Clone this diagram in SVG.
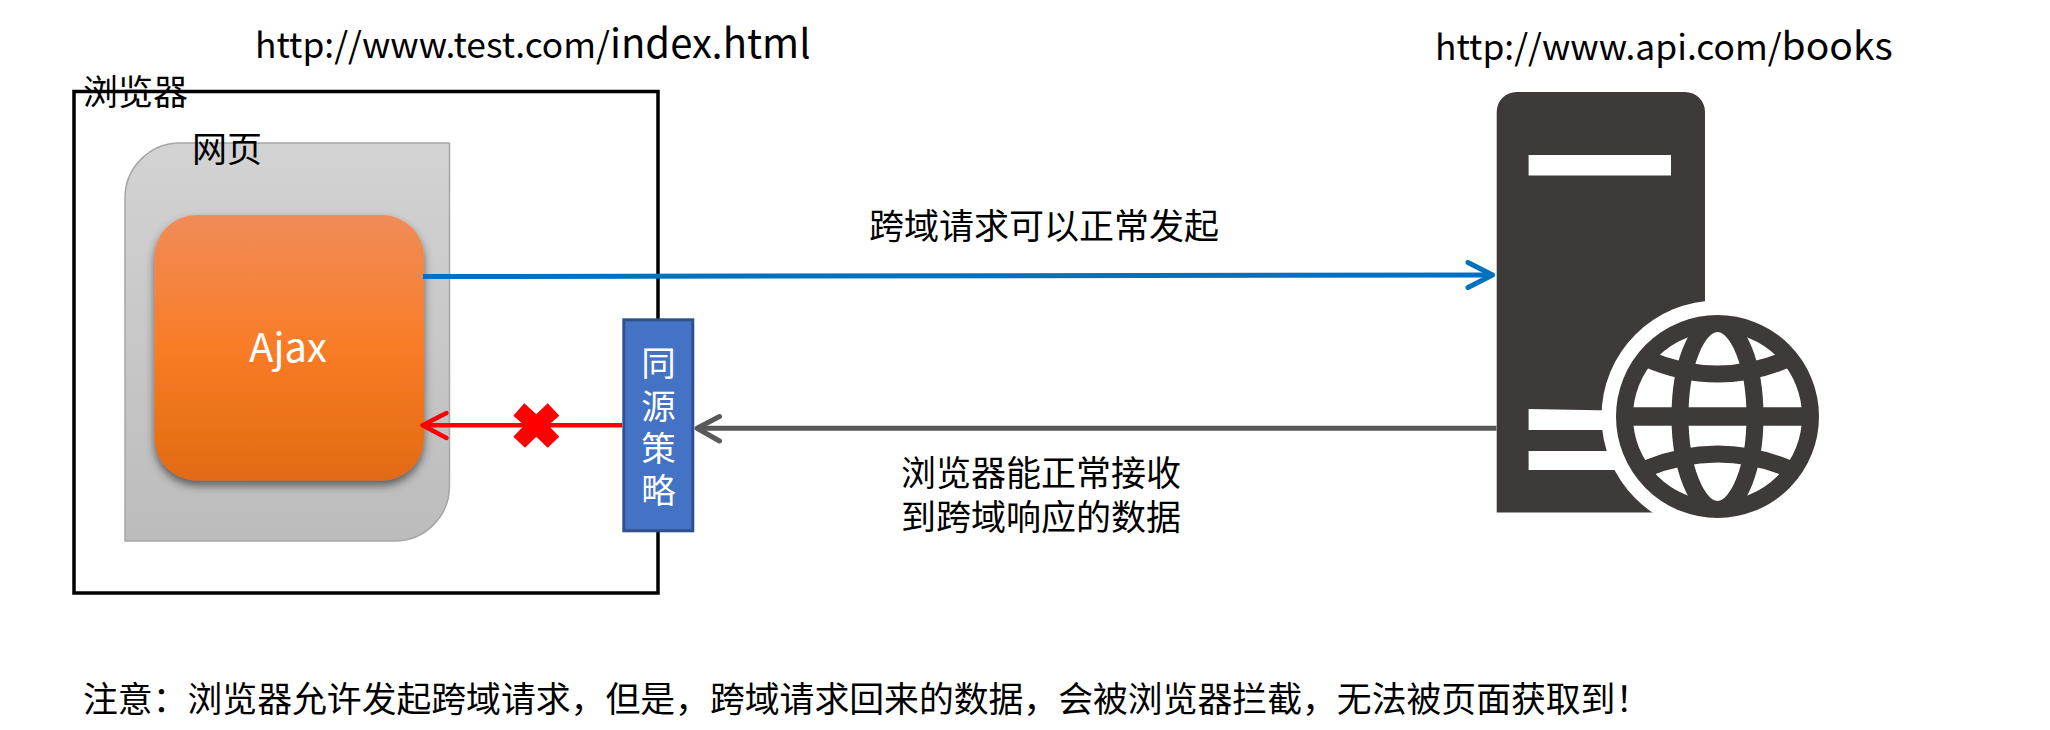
<svg xmlns="http://www.w3.org/2000/svg" width="2050" height="730" viewBox="0 0 2050 730">
  <style>
    text { font-family: "Noto Sans CJK SC", "Noto Sans", sans-serif; fill: #000; font-size: 35px; }
    .w { fill: #fff; }
    .c { text-anchor: middle; }
    .arrow { fill: none; stroke-linecap: round; stroke-linejoin: round; }
  </style>
  <defs>
    <linearGradient id="pageGrad" x1="0" y1="0" x2="0" y2="1">
      <stop offset="0" stop-color="#D3D3D3"/><stop offset="1" stop-color="#BCBCBC"/>
    </linearGradient>
    <linearGradient id="ajaxGrad" x1="0" y1="0" x2="0" y2="1">
      <stop offset="0" stop-color="#F08C58"/><stop offset="0.5" stop-color="#F97C26"/><stop offset="1" stop-color="#E26A12"/>
    </linearGradient>
    <filter id="shadow" x="-15%" y="-15%" width="130%" height="130%">
      <feDropShadow dx="0" dy="5" stdDeviation="4" flood-color="#333" flood-opacity="0.7"/>
    </filter>
    <clipPath id="globeClip"><circle cx="1717.5" cy="416.5" r="95"/></clipPath>
  </defs>
  <rect width="2050" height="730" fill="#fff"/>

  <g id="url-test"><text x="255" y="58" style="font-size:35.4px">http://www.test.com/<tspan style="font-size:40px">index.html</tspan></text></g>
  <g id="url-api"><text x="1435" y="60" style="font-size:35.4px">http://www.api.com/<tspan style="font-size:39px">books</tspan></text></g>

  <g id="browser">
    <rect x="74" y="91.5" width="584" height="501.5" fill="none" stroke="#000" stroke-width="3.5"/>
    <text x="83" y="105">浏览器</text>
  </g>
  <g id="page">
    <path d="M125 198A55 55 0 0 1 180 143H449.5V486A55 55 0 0 1 394.5 541H125Z" fill="url(#pageGrad)" stroke="#A6A6A6" stroke-width="1.5"/>
    <text x="192" y="162">网页</text>
  </g>
  <g id="ajax">
    <rect x="154.5" y="215" width="269.5" height="265.5" rx="42" ry="42" fill="url(#ajaxGrad)" filter="url(#shadow)"/>
    <text class="w c" x="288" y="362" style="font-size:40px">Ajax</text>
  </g>

  <g id="server">
    <path d="M1496.7 112A20 20 0 0 1 1516.7 92H1685A20 20 0 0 1 1705 112V340H1660V512.6H1496.7Z" fill="#3E3A39"/>
    <rect x="1528.6" y="155" width="142.4" height="20.5" fill="#fff"/>
    <path d="M1528.6 409L1640 411V430H1528.6Z" fill="#fff"/>
    <rect x="1528.6" y="451" width="110" height="19" fill="#fff"/>
    <circle cx="1717.5" cy="416.5" r="116" fill="#fff"/>
    <g id="globe">
      <circle cx="1717.5" cy="416.5" r="93" fill="#fff" stroke="#3E3A39" stroke-width="17"/>
      <g clip-path="url(#globeClip)" fill="none" stroke="#3E3A39" stroke-width="17">
        <ellipse cx="1717.5" cy="416.5" rx="37.5" ry="93"/>
        <path d="M1620 416.5H1815" stroke-width="18.5"/>
        <path d="M1645 358Q1717.5 390 1790 358"/>
        <path d="M1645 469Q1717.5 439 1790 469"/>
      </g>
    </g>
  </g>

  <g id="connectors">
    <g class="arrow" stroke="#0070C0" stroke-width="5">
      <path d="M423 276.5L1492 275" stroke-linecap="butt"/>
      <path d="M1468 262.5L1492.5 275L1468 287.5"/>
    </g>
    <g class="arrow" stroke="#FF0000" stroke-width="4.5">
      <path d="M622 425.3H424" stroke-linecap="butt"/>
      <path d="M446.5 413L422.5 425.3L446.5 438"/>
    </g>
    <g class="arrow" stroke="#595959" stroke-width="5">
      <path d="M1496.5 428.3H698" stroke-linecap="butt"/>
      <path d="M719.5 416.5L697 428.3L719.5 441"/>
    </g>
  </g>
  <g id="blocked">
    <polygon points="524.3,403.3 536.3,414.3 547.7,403.3 559.3,415.7 548.3,425.3 559.3,436.7 547.7,447.7 536.3,436.7 525,447.7 513.3,436.7 524.3,425.3 513.3,415.7" fill="#FF0000"/>
  </g>

  <g id="policy">
    <rect x="623.8" y="319.8" width="69" height="211" fill="#4472C4" stroke="#2F528F" stroke-width="3"/>
    <text class="w" x="658.5" y="346" style="font-size:34.5px;writing-mode:vertical-rl;letter-spacing:7.7px">同源策略</text>
  </g>

  <g id="label-request"><text x="869" y="239">跨域请求可以正常发起</text></g>
  <g id="label-response">
    <text x="901" y="485.5">浏览器能正常接收</text>
    <text x="901" y="529.5">到跨域响应的数据</text>
  </g>
  <g id="note"><text x="83" y="712" style="font-size:34.85px">注意：浏览器允许发起跨域请求，但是，跨域请求回来的数据，会被浏览器拦截，无法被页面获取到！</text></g>
</svg>
